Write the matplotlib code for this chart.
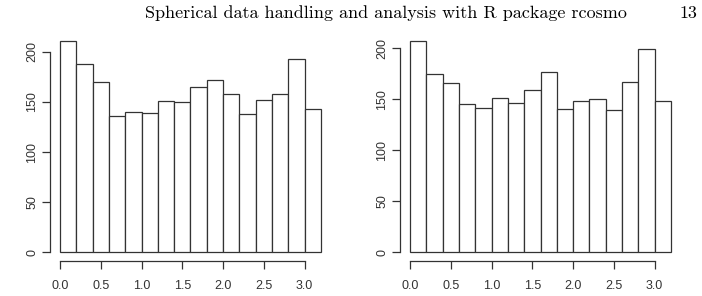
import numpy as np
import matplotlib.pyplot as plt

# histogram bins (width 0.2) and counts
edges = np.round(np.arange(0, 3.21, 0.2), 1)
counts_left = [211, 188, 170, 136, 140, 139, 151, 150, 165, 172, 158, 138, 152, 158, 193, 143]
counts_right = [207, 175, 166, 145, 141, 151, 146, 159, 177, 140, 148, 150, 139, 167, 199, 148]
xticks = [0.0, 0.5, 1.0, 1.5, 2.0, 2.5, 3.0]
yticks = [0, 50, 100, 150, 200]

header = "Spherical data handling and analysis with R package rcosmo"
page = "13"

W, H = 702, 296
fig = plt.figure(figsize=(W / 100, H / 100), dpi=100)


def r_hist(ax, counts):
    centers = (edges[:-1] + edges[1:]) / 2
    ax.bar(centers, counts, width=0.2, facecolor='white', edgecolor='#333333', linewidth=0.9)
    xr = edges[-1] - edges[0]
    ax.set_xlim(edges[0] - 0.04 * xr, edges[-1] + 0.04 * xr)
    ym = max(counts)
    ax.set_ylim(-0.04 * ym, ym * 1.04)
    for s in ['top', 'right']:
        ax.spines[s].set_visible(False)
    ax.spines['left'].set_bounds(yticks[0], yticks[-1])
    ax.spines['bottom'].set_bounds(xticks[0], xticks[-1])
    for s in ['left', 'bottom']:
        ax.spines[s].set_color('#333333')
        ax.spines[s].set_linewidth(0.9)
    ax.set_xticks(xticks)
    ax.set_xticklabels([f"{v:.1f}" for v in xticks])
    ax.set_yticks(yticks)
    ax.set_yticklabels([str(v) for v in yticks], rotation=90, va='center')
    ax.tick_params(axis='both', length=5.5, width=0.9, color='#333333',
                   labelsize=9, labelcolor='#333333')
    ax.tick_params(axis='x', pad=8.5)
    ax.tick_params(axis='y', pad=2.5)
    for lab in ax.get_xticklabels() + ax.get_yticklabels():
        lab.set_fontfamily('Liberation Sans')


# axes placed in pixel coordinates of the page
ax1 = fig.add_axes([49.6 / W, (H - 260.5) / H, 281.8 / W, 228 / H])
r_hist(ax1, counts_left)
ax2 = fig.add_axes([399.6 / W, (H - 260.5) / H, 281.8 / W, 228 / H])
r_hist(ax2, counts_right)

fig.text(627 / W, 1 - 13 / H, header, ha='right', va='center', fontsize=13, fontfamily='cmr10')
fig.text(697 / W, 1 - 13 / H, page, ha='right', va='center', fontsize=13, fontfamily='cmr10')

fig.savefig('out.png', dpi=100)
